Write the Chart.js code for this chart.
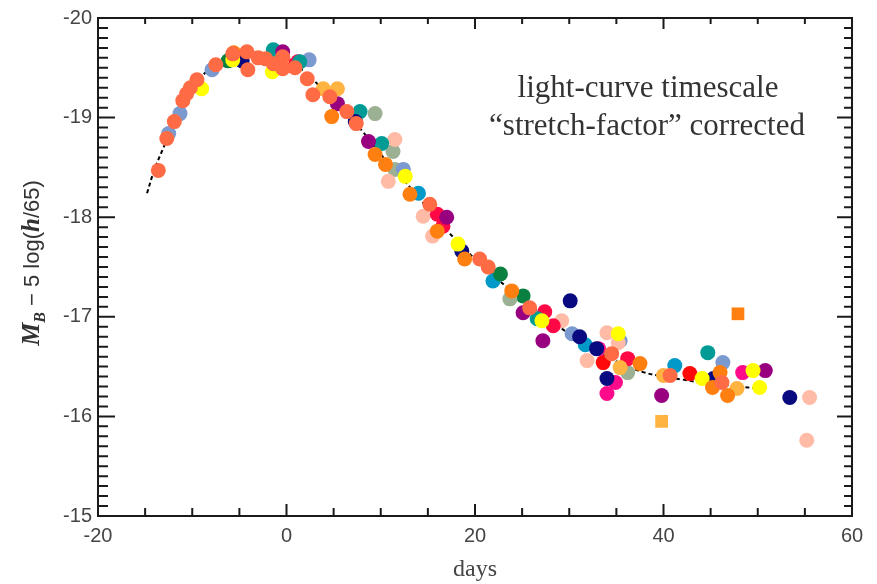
<!DOCTYPE html>
<html>
<head>
<meta charset="utf-8">
<script src="https://cdn.jsdelivr.net/npm/chart.js@4.4.0/dist/chart.umd.min.js"></script>
<style>
  html, body { margin: 0; padding: 0; background: #fff; }
</style>
</head>
<body>
<canvas id="lc" width="877" height="584"></canvas>
<script>
// [days, M_B - 5 log(h/65)], one list per colour
var coral = [[-13.6,-18.47],[-12.7,-18.79],[-11.9,-18.96],[-11.0,-19.17],[-10.6,-19.24],[-10.2,-19.30],
  [-9.5,-19.38],[-7.5,-19.53],[-5.7,-19.64],[-4.2,-19.66],[-4.1,-19.48],[-3.0,-19.60],[-2.2,-19.59],
  [-1.4,-19.54],[-0.4,-19.61],[-0.4,-19.49],[0.9,-19.50],[2.2,-19.39],[2.8,-19.23],[4.6,-19.21],
  [6.4,-19.06],[7.4,-18.94],[15.2,-18.13],[20.5,-17.58],[21.4,-17.50],[25.8,-17.09],[34.5,-16.63],
  [40.7,-16.41],[46.2,-16.34]];
var orange = [[-5.6,-19.65],[4.8,-19.01],[9.4,-18.63],[10.5,-18.53],[13.1,-18.23],[16.0,-17.86],
  [18.9,-17.58],[23.9,-17.26],[37.5,-16.53],[46.0,-16.44],[45.2,-16.29],[46.8,-16.21]];
var orangeSquare = [[47.9,-17.03]];
var lightOrange = [[-0.5,-19.58],[3.9,-19.29],[5.4,-19.29],[35.4,-16.49],[40.0,-16.41],[47.8,-16.28]];
var lightOrangeSquare = [[39.8,-15.95]];
var yellow = [[-5.7,-19.58],[-1.5,-19.46],[-9.0,-19.29],[12.6,-18.41],[18.2,-17.73],[27.1,-16.96],
  [35.2,-16.83],[44.1,-16.38],[49.5,-16.46],[50.2,-16.29]];
var navy = [[-4.7,-19.57],[7.3,-18.96],[18.6,-17.66],[30.1,-17.16],[31.1,-16.80],[32.9,-16.68],
  [34.0,-16.38],[45.3,-16.38],[53.4,-16.19]];
var purple = [[-0.4,-19.66],[5.4,-19.14],[8.7,-18.76],[17.0,-18.00],[25.1,-17.04],[27.2,-16.76],
  [39.8,-16.21],[50.8,-16.46]];
var teal = [[-1.4,-19.68],[1.4,-19.56],[7.8,-19.06],[10.1,-18.74],[26.6,-16.98],[44.7,-16.64]];
var crimson = [[0.6,-19.52],[1.2,-19.56],[16.0,-18.03],[16.6,-17.91],[27.4,-17.05],[28.3,-16.91],[36.2,-16.58]];
var peach = [[11.5,-18.78],[10.8,-18.36],[14.5,-18.01],[15.5,-17.81],[29.2,-16.96],[34.0,-16.84],
  [35.2,-16.74],[31.9,-16.56],[55.5,-16.19],[55.2,-15.76]];
var lightBlue = [[-12.5,-18.84],[-11.3,-19.04],[-7.9,-19.48],[2.4,-19.58],[12.4,-18.48],[30.3,-16.83],
  [35.4,-16.76],[46.3,-16.54]];
var sage = [[9.4,-19.04],[11.3,-18.66],[11.5,-18.48],[23.7,-17.18],[36.2,-16.44]];
var green = [[-6.2,-19.57],[22.7,-17.43],[25.1,-17.21]];
var cyan = [[14.0,-18.24],[21.9,-17.36],[31.7,-16.72],[41.2,-16.51]];
var hotPink = [[33.1,-16.68],[34.9,-16.34],[34.0,-16.23],[48.4,-16.44]];
var red = [[33.6,-16.54],[42.8,-16.43]];

// dashed template curve
var templateDays = [-14.8,-14,-13,-12,-11,-10,-8,-6,-4,-2,0,2,4,6,8,10,12,14,16,18,20,22,24,26,28,30,32,34,36,38,40,42,44,46,48,50];
var templateMag = [-18.24,-18.48,-18.71,-18.93,-19.13,-19.30,-19.50,-19.60,-19.65,-19.64,-19.58,-19.45,-19.27,
  -19.08,-18.87,-18.63,-18.42,-18.20,-17.97,-17.77,-17.58,-17.41,-17.25,-17.10,-16.96,-16.83,-16.71,-16.60,
  -16.51,-16.44,-16.40,-16.37,-16.34,-16.32,-16.30,-16.28];

var xTicks = [-20, 0, 20, 40, 60];
var yTicks = [-20, -19, -18, -17, -16, -15];

function pts(list) {
    return list.map(function(p) { return {x: p[0], y: p[1]}; });
}

function dots(list, color, style, r) {
    return {
        type: "scatter",
        data: pts(list),
        backgroundColor: color,
        borderWidth: 0,
        pointStyle: style || "circle",
        pointRadius: r || 7.5,
        order: 1
    };
}

var templateLine = {
    type: "line",
    data: templateDays.map(function(d, i) { return {x: d, y: templateMag[i]}; }),
    borderColor: "#000",
    borderWidth: 2,
    borderDash: [4, 3],
    pointRadius: 0,
    fill: false,
    tension: 0.4,
    order: 50
};

var frame = {
    id: "frame",
    afterDraw: function(chart) {
        var ctx = chart.ctx, a = chart.chartArea;
        var xs = chart.scales.x, ys = chart.scales.y;
        ctx.save();
        ctx.strokeStyle = "#1a1a1a";
        ctx.lineWidth = 2;
        ctx.strokeRect(a.left, a.top, a.right - a.left, a.bottom - a.top);
        ctx.beginPath();
        for (var d = xs.min; d <= xs.max; d += 5) {
            var px = xs.getPixelForValue(d);
            var major = (d % 20 == 0);
            ctx.moveTo(px, a.bottom); ctx.lineTo(px, a.bottom - (major ? 12 : 8));
            ctx.moveTo(px, a.top); ctx.lineTo(px, a.top + (major ? 11 : 6));
        }
        for (var i = 0; i <= 50; i++) {
            var py = ys.getPixelForValue(ys.min + i * 0.1);
            var big = (i % 10 == 0);
            ctx.moveTo(a.left, py); ctx.lineTo(a.left + (big ? 17 : 10), py);
            ctx.moveTo(a.right, py); ctx.lineTo(a.right - (big ? 15 : 8), py);
        }
        ctx.stroke();

        // annotation
        ctx.fillStyle = "#333";
        ctx.font = '31px "Liberation Serif"';
        ctx.textAlign = "center";
        ctx.textBaseline = "alphabetic";
        ctx.fillText("light-curve timescale", 648, 97);
        ctx.fillText("\u201Cstretch-factor\u201D corrected", 647, 135);

        // y title, rotated
        ctx.translate(39, 263);
        ctx.rotate(-Math.PI / 2);
        var parts = [
            {t: "M", f: 'bold italic 26px "Liberation Serif"', dy: 0},
            {t: "B", f: 'bold italic 16px "Liberation Serif"', dy: 6},
            {t: " \u2212 5 log(", f: '22px "Liberation Sans"', dy: 0},
            {t: "h", f: 'bold italic 25px "Liberation Serif"', dy: 0},
            {t: "/65)", f: '22px "Liberation Sans"', dy: 0}
        ];
        var total = 0;
        parts.forEach(function(p) { ctx.font = p.f; p.w = ctx.measureText(p.t).width; total += p.w; });
        var x0 = -total / 2;
        ctx.textAlign = "left";
        parts.forEach(function(p) { ctx.font = p.f; ctx.fillText(p.t, x0, p.dy); x0 += p.w; });
        ctx.restore();
    }
};

new Chart(document.getElementById("lc"), {
    data: {
        datasets: [
            dots(coral, "#FF6B45"),
            dots(orange, "#FF8010"),
            dots(orangeSquare, "#FF8010", "rect", 9),
            dots(lightOrange, "#FFB340"),
            dots(lightOrangeSquare, "#FFB340", "rect", 9),
            dots(yellow, "#FFFF00"),
            dots(navy, "#0A0A80"),
            dots(purple, "#990080"),
            dots(teal, "#009B95"),
            dots(crimson, "#FF0845"),
            dots(peach, "#FFBBA6"),
            dots(lightBlue, "#7B9AD0"),
            dots(sage, "#9CB094"),
            dots(green, "#0A8040"),
            dots(cyan, "#0099C8"),
            dots(hotPink, "#FF0A8A"),
            dots(red, "#FF0A0A"),
            templateLine
        ]
    },
    options: {
        responsive: false,
        animation: false,
        layout: { padding: { top: 16, right: 25, left: 0, bottom: 0 } },
        plugins: { legend: { display: false }, tooltip: { enabled: false } },
        scales: {
            x: {
                type: "linear",
                min: xTicks[0],
                max: xTicks[xTicks.length - 1],
                grid: { display: false, drawTicks: false },
                border: { display: false },
                ticks: {
                    stepSize: xTicks[1] - xTicks[0],
                    padding: 8,
                    color: "#444",
                    font: { family: "Liberation Sans", size: 20 },
                    maxRotation: 0
                },
                title: {
                    display: true,
                    text: "days",
                    color: "#444",
                    font: { family: "Liberation Serif", size: 24 },
                    padding: { top: 0, bottom: 0 }
                },
                afterFit: function(s) { s.height = 68; }
            },
            y: {
                type: "linear",
                reverse: true,
                min: yTicks[0],
                max: yTicks[yTicks.length - 1],
                grid: { display: false, drawTicks: false },
                border: { display: false },
                ticks: {
                    stepSize: 1,
                    padding: 6,
                    color: "#444",
                    font: { family: "Liberation Sans", size: 20 }
                },
                afterFit: function(s) { s.width = 98; }
            }
        }
    },
    plugins: [frame]
});
</script>
</body>
</html>
